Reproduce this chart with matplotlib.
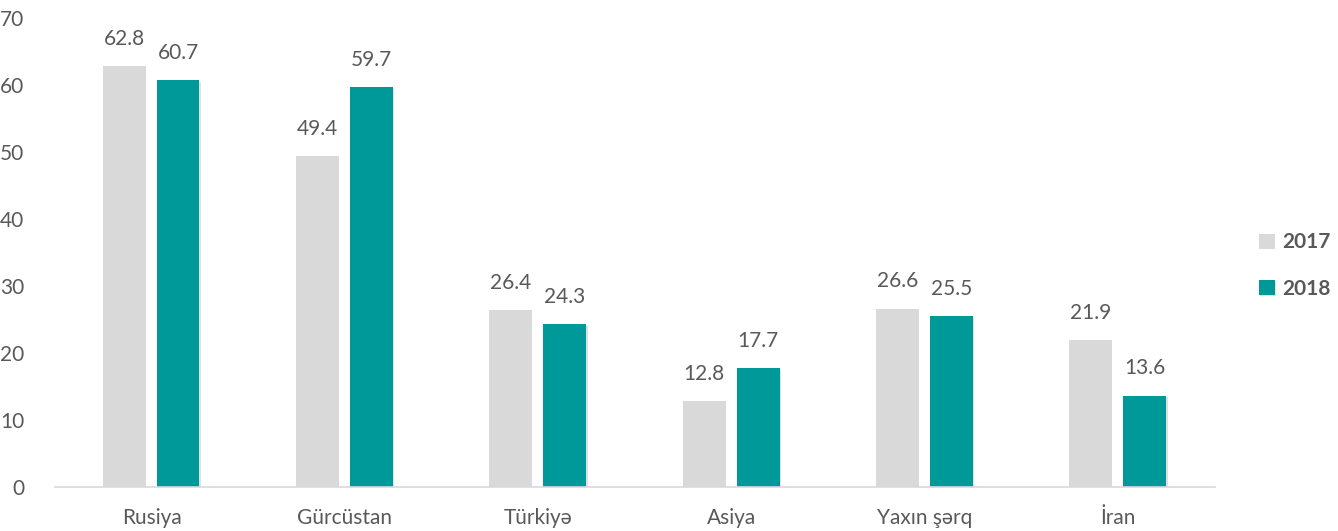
import numpy as np
import matplotlib
matplotlib.use("Agg")
import matplotlib.pyplot as plt
import matplotlib.patheffects as pe

categories = ["Rusiya", "Gürcüstan", "Türkiyə", "Asiya", "Yaxın şərq", "İran"]
values_2017 = [62.8, 49.4, 26.4, 12.8, 26.6, 21.9]
values_2018 = [60.7, 59.7, 24.3, 17.7, 25.5, 13.6]

plt.rcParams['font.family'] = ['Lato', 'DejaVu Sans']
txt = '#595959'

fig = plt.figure(figsize=(13.38, 5.31), dpi=100)
ax = fig.add_axes([0.041, 0.083, 0.867, 0.883])

x = np.arange(len(categories))
w = 0.222
b1 = ax.bar(x - 0.142, values_2017, w, color='#D9D9D9', label='2017')
b2 = ax.bar(x + 0.137, values_2018, w, color='#009999', label='2018')
shadow = [pe.SimplePatchShadow(offset=(1, -1), shadow_rgbFace='#000000', alpha=0.12), pe.Normal()]
for b in b2:
    b.set_path_effects(shadow)

for bars, vals in ((b1, values_2017), (b2, values_2018)):
    for b, v in zip(bars, vals):
        ax.text(b.get_x() + b.get_width() / 2, v + 2.6, f"{v:.1f}", ha='center', va='bottom',
                fontsize=15, color=txt)

ax.set_xlim(-0.5, len(categories) - 0.5)
ax.set_ylim(0, 70)
ax.set_yticks(range(0, 71, 10))
ax.set_xticks(x)
ax.set_xticklabels(categories)
ax.tick_params(axis='both', length=0, labelsize=15, colors=txt)
ax.tick_params(axis='x', pad=15)
ax.tick_params(axis='y', pad=22)
for s in ['top', 'right', 'left']:
    ax.spines[s].set_visible(False)
ax.spines['bottom'].set_color('#D9D9D9')
ax.spines['bottom'].set_linewidth(1.2)

leg = fig.legend(handles=[b1, b2], loc='center left', bbox_to_anchor=(0.927, 0.5),
                 frameon=False, fontsize=15, handlelength=0.75, handleheight=0.75,
                 handletextpad=0.35, labelspacing=1.25)
for t in leg.get_texts():
    t.set_color(txt)
    t.set_fontweight('bold')

fig.savefig("out.png", dpi=100)
